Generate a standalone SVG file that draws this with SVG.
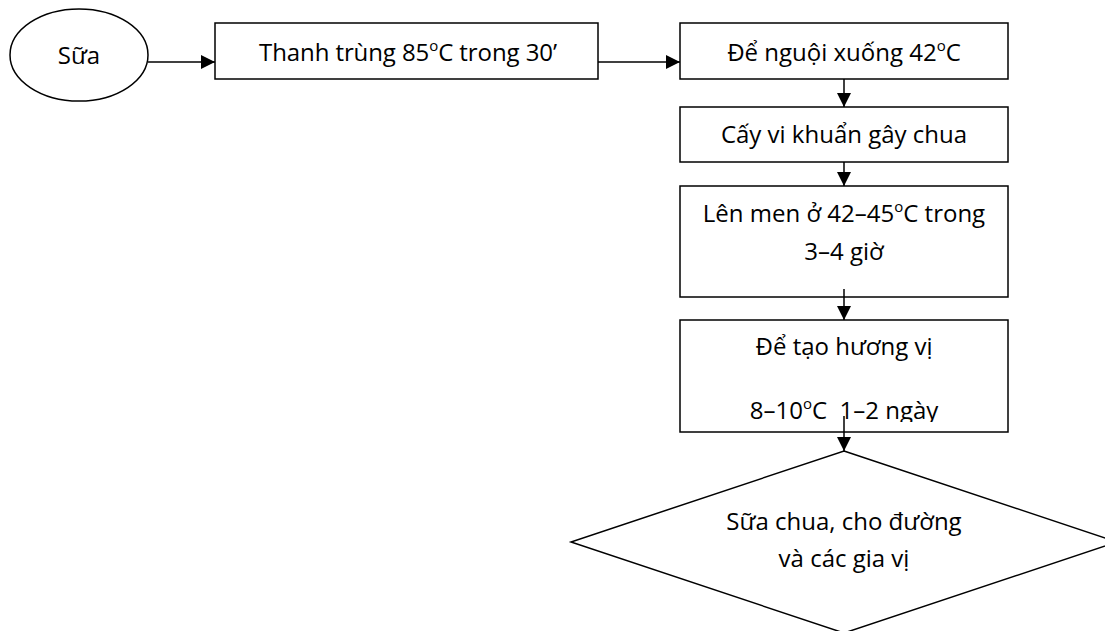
<svg xmlns="http://www.w3.org/2000/svg" width="1105" height="631" viewBox="0 0 1105 631">
  <style>
    .shape { fill: #ffffff; stroke: #000000; stroke-width: 1.5; }
    .link { fill: none; stroke: #000000; stroke-width: 1.5; }
    .label { font-family: "Open Sans", "Liberation Sans", sans-serif; font-size: 24px; fill: #000000; text-anchor: middle; }
    .deg { font-size: 15px; }
  </style>
  <defs>
    <marker id="arrow" viewBox="0 0 14 14" refX="14" refY="7" markerWidth="14" markerHeight="14" markerUnits="userSpaceOnUse" orient="auto">
      <path d="M0,0 L14,7 L0,14 Z" fill="#000000"/>
    </marker>
    <clipPath id="clip-aroma">
      <rect x="681" y="321" width="326" height="101"/>
    </clipPath>
  </defs>

  <!-- Start: raw milk -->
  <g id="node-milk">
    <ellipse class="shape" cx="79" cy="55" rx="69" ry="46"/>
    <text class="label" x="79" y="64">Sữa</text>
  </g>

  <!-- Pasteurisation -->
  <g id="node-pasteurise">
    <rect class="shape" x="215" y="23" width="383" height="56"/>
    <text class="label" x="408" y="61" textLength="298" lengthAdjust="spacing">Thanh trùng 85<tspan class="deg" dy="-10">o</tspan><tspan dy="10">C trong 30’</tspan></text>
  </g>

  <!-- Cooling -->
  <g id="node-cool">
    <rect class="shape" x="680" y="23" width="328" height="56"/>
    <text class="label" x="844" y="61">Để nguội xuống 42<tspan class="deg" dy="-10">o</tspan><tspan dy="10">C</tspan></text>
  </g>

  <!-- Inoculation -->
  <g id="node-inoculate">
    <rect class="shape" x="680" y="107" width="328" height="55"/>
    <text class="label" x="844" y="143">Cấy vi khuẩn gây chua</text>
  </g>

  <!-- Fermentation -->
  <g id="node-ferment">
    <rect class="shape" x="680" y="186" width="328" height="111"/>
    <text class="label" x="844" y="222">Lên men ở 42–45<tspan class="deg" dy="-10">o</tspan><tspan dy="10">C trong</tspan></text>
    <text class="label" x="844" y="260">3–4 giờ</text>
  </g>

  <!-- Flavour development (second line runs into the bottom edge) -->
  <g id="node-aroma">
    <rect class="shape" x="680" y="320" width="328" height="112"/>
    <g clip-path="url(#clip-aroma)">
      <text class="label" x="844" y="355">Để tạo hương vị</text>
      <text class="label" x="844" y="419" xml:space="preserve">8–10<tspan class="deg" dy="-10">o</tspan><tspan dy="10">C  1–2 ngày</tspan></text>
    </g>
  </g>

  <!-- Final product -->
  <g id="node-product">
    <polygon class="shape" points="844,451 1117,542 844,633 571,542"/>
    <text class="label" x="844" y="530">Sữa chua, cho đường</text>
    <text class="label" x="844" y="567">và các gia vị</text>
  </g>

  <!-- Connectors -->
  <g id="connectors">
    <line class="link" x1="148" y1="62" x2="215" y2="62" marker-end="url(#arrow)"/>
    <line class="link" x1="598" y1="62" x2="680" y2="62" marker-end="url(#arrow)"/>
    <line class="link" x1="844" y1="79" x2="844" y2="107" marker-end="url(#arrow)"/>
    <line class="link" x1="844" y1="162" x2="844" y2="186" marker-end="url(#arrow)"/>
    <line class="link" x1="844" y1="289" x2="844" y2="320" marker-end="url(#arrow)"/>
    <line class="link" x1="844" y1="416" x2="844" y2="451" marker-end="url(#arrow)"/>
  </g>
</svg>
